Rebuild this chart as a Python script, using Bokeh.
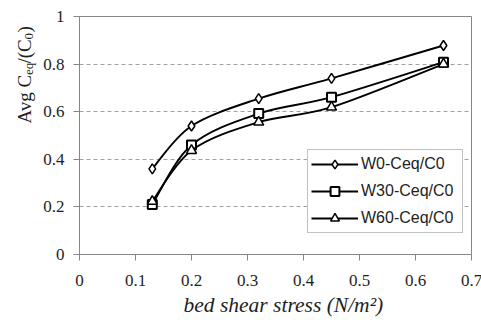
import math
from bokeh.plotting import figure
from bokeh.layouts import row
from bokeh.models import Range1d, FixedTicker, Legend, LegendItem, Label, ColumnDataSource, Title
from bokeh.embed import file_html
from bokeh.resources import INLINE

# ---- data ----
stress = [0.13, 0.20, 0.32, 0.45, 0.65]
w0 = [0.36, 0.54, 0.655, 0.74, 0.878]
w30 = [0.21, 0.46, 0.592, 0.661, 0.808]
w60 = [0.223, 0.437, 0.556, 0.619, 0.80]
series_names = ["W0-Ceq/C0", "W30-Ceq/C0", "W60-Ceq/C0"]
x_ticks = [0, 0.1, 0.2, 0.3, 0.4, 0.5, 0.6, 0.7]
x_tick_labels = ["0", "0.1", "0.2", "0.3", "0.4", "0.5", "0.6", "0.7"]
y_ticks = [0, 0.2, 0.4, 0.6, 0.8, 1.0]
y_tick_labels = ["0", "0.2", "0.4", "0.6", "0.8", "1"]
x_title = "bed shear stress (N/m\u00b2)"

AX = "#868686"
TXT = "#1e1e1e"
LW = 40  # width of the strip holding the y-axis title

FW, FH = 392, 238
p = figure(frame_width=FW, frame_height=FH, output_backend="svg", toolbar_location=None,
           x_range=Range1d(0, 0.7), y_range=Range1d(0, 1),
           min_border_left=78 - LW, min_border_right=11, min_border_top=16, min_border_bottom=69)
p.background_fill_color = "white"
p.border_fill_color = "white"
p.outline_line_color = AX
p.outline_line_width = 1

p.xaxis.ticker = FixedTicker(ticks=x_ticks)
p.yaxis.ticker = FixedTicker(ticks=y_ticks)
p.xaxis.major_label_overrides = {t: l for t, l in zip(x_ticks, x_tick_labels)}
p.yaxis.major_label_overrides = {t: l for t, l in zip(y_ticks, y_tick_labels)}
for ax in (p.xaxis, p.yaxis):
    ax.axis_line_color = AX
    ax.major_tick_line_color = AX
    ax.major_tick_out = 6
    ax.major_tick_in = 0
    ax.minor_tick_line_color = None
    ax.major_label_text_font = "Liberation Serif"
    ax.major_label_text_font_size = "17px"
    ax.major_label_text_color = TXT
p.xaxis.major_label_standoff = 14
p.yaxis.major_label_standoff = 9

xt = Title(text=x_title, align="left", offset=104, standoff=4,
           text_font="Liberation Serif", text_font_style="italic",
           text_font_size="21.5px", text_color=TXT)
p.add_layout(xt, "below")

p.xgrid.grid_line_color = None
p.ygrid.grid_line_color = "#a0a0a0"
p.ygrid.grid_line_dash = "4 3"
p.ygrid.grid_line_width = 1


def smooth_source(xs, ys):
    n = len(xs)
    P = list(zip(xs, ys))
    d = dict(x0=[], y0=[], x1=[], y1=[], cx0=[], cy0=[], cx1=[], cy1=[])
    for i in range(n - 1):
        pm = P[max(i - 1, 0)]
        p0 = P[i]
        p1 = P[i + 1]
        p2 = P[min(i + 2, n - 1)]
        d["x0"].append(p0[0]); d["y0"].append(p0[1])
        d["x1"].append(p1[0]); d["y1"].append(p1[1])
        d["cx0"].append(p0[0] + (p1[0] - pm[0]) / 6)
        d["cy0"].append(p0[1] + (p1[1] - pm[1]) / 6)
        d["cx1"].append(p1[0] - (p2[0] - p0[0]) / 6)
        d["cy1"].append(p1[1] - (p2[1] - p0[1]) / 6)
    return ColumnDataSource(d)


items = []
specs = [(w0, "diamond", 10, 1.5), (w30, "square", 9, 2.0), (w60, "triangle", 10, 1.5)]
for name, (ys, marker, size, mlw) in zip(series_names, specs):
    src = smooth_source(stress, ys)
    r_line = p.bezier(x0="x0", y0="y0", x1="x1", y1="y1", cx0="cx0", cy0="cy0",
                      cx1="cx1", cy1="cy1", source=src, line_color="black", line_width=1.9)
    r_mark = p.scatter(stress, ys, marker=marker, size=size, fill_color="white",
                       line_color="black", line_width=mlw)
    items.append(LegendItem(label=name, renderers=[r_line, r_mark]))

legend = Legend(items=items, location=(228, 21), orientation="vertical")
legend.glyph_width = 47
legend.glyph_height = 22
legend.label_height = 22
legend.label_width = 98
legend.label_standoff = 3
legend.padding = 3
legend.spacing = 5
legend.margin = 0
legend.border_line_color = AX
legend.border_line_width = 1
legend.background_fill_color = "white"
legend.background_fill_alpha = 1
legend.label_text_font = "Liberation Sans"
legend.label_text_font_size = "16px"
legend.label_text_color = TXT
legend.label_text_baseline = "middle"
p.add_layout(legend, "center")

# ---- strip with the rotated y-axis title: Avg C_eq/(C_0) ----
t = figure(width=LW, height=323, output_backend="svg", toolbar_location=None,
           x_range=Range1d(0, LW), y_range=Range1d(0, 323),
           x_axis_type=None, y_axis_type=None,
           min_border_left=0, min_border_right=0, min_border_top=0, min_border_bottom=0)
t.outline_line_color = None
t.grid.visible = False
t.background_fill_color = "white"
t.border_fill_color = "white"

ang = math.pi / 2
bx = 24
by = 131
pieces = [("Avg C", 0, 19, 0), ("eq", 48.5, 13, 4), ("/(C", 60, 19, 0), ("0", 84, 13, 4), (")", 91, 19, 0)]
for txt, off, fs, sub in pieces:
    t.add_layout(Label(x=bx + sub, y=by + off, x_units="screen", y_units="screen", text=txt,
                       angle=ang, text_font="Liberation Serif", text_font_size=f"{fs}px",
                       text_color=TXT, text_align="left", text_baseline="alphabetic"))

layout = row(t, p, spacing=0)
open("out.html", "w").write(file_html(layout, INLINE))
